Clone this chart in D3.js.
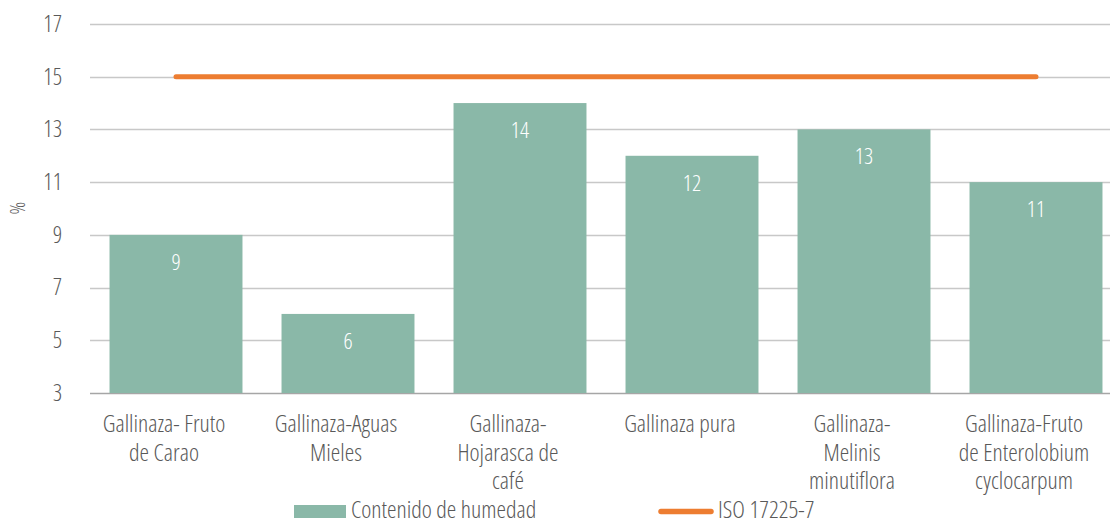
<!DOCTYPE html>
<html>
<head>
<meta charset="utf-8">
<script src="https://cdn.jsdelivr.net/npm/d3@7"></script>
<style>
  body { margin: 0; background: #fff; }
  svg text { font-family: "Open Sans", "Liberation Sans Narrow", "DejaVu Sans Condensed", sans-serif; font-stretch: condensed; font-weight: 300; fill: #595959; }
</style>
</head>
<body>
<div id="chart"></div>
<script>
// categories and values
const categories = [
    ["Gallinaza- Fruto", "de Carao"],
    ["Gallinaza-Aguas", "Mieles"],
    ["Gallinaza-", "Hojarasca de", "café"],
    ["Gallinaza pura"],
    ["Gallinaza-", "Melinis", "minutiflora"],
    ["Gallinaza-Fruto", "de Enterolobium", "cyclocarpum"]
];
const humedad = [9, 6, 14, 12, 13, 11];
const iso = [15, 15, 15, 15, 15, 15];
const yTicks = [3, 5, 7, 9, 11, 13, 15, 17];
const seriesNames = ["Contenido de humedad", "ISO 17225-7"];

const width = 1110, height = 520;
const margin = { top: 24, right: -12, bottom: 127, left: 90 };
const barColor = "#8ab8a8", lineColor = "#ed7d31";

const svg = d3.select("#chart").append("svg")
    .attr("width", width)
    .attr("height", height);

const keys = categories.map((d, i) => i);
const x = d3.scaleBand()
    .domain(keys)
    .range([margin.left, width - margin.right])
    .paddingInner(0.227)
    .paddingOuter(0.1135);

const y = d3.scaleLinear()
    .domain([3, 17])
    .range([height - margin.bottom, margin.top]);

// gridlines
svg.append("g")
    .selectAll("line")
    .data(yTicks)
    .join("line")
    .attr("x1", margin.left)
    .attr("x2", width)
    .attr("y1", d => Math.round(y(d)) + 0.5)
    .attr("y2", d => Math.round(y(d)) + 0.5)
    .attr("stroke", d => d === 3 ? "#a6a6a6" : "#c8c8c8")
    .attr("stroke-width", 1.5);

// y axis labels
const yAxis = svg.append("g")
    .attr("transform", `translate(${margin.left - 28},0)`)
    .call(d3.axisLeft(y).tickValues(yTicks).tickSize(0).tickPadding(0));
yAxis.select(".domain").remove();
yAxis.selectAll("text")
    .style("font-size", "23px")
    .attr("fill", "#595959");

svg.append("text")
    .attr("transform", "translate(25,208) rotate(-90)")
    .attr("text-anchor", "middle")
    .style("font-size", "21px")
    .text("%");

// bars
svg.append("g")
    .selectAll("rect")
    .data(humedad)
    .join("rect")
    .attr("x", (d, i) => x(i))
    .attr("y", d => y(d))
    .attr("width", x.bandwidth())
    .attr("height", d => y(3) - y(d))
    .attr("fill", barColor);

// value labels
svg.append("g")
    .selectAll("text")
    .data(humedad)
    .join("text")
    .attr("x", (d, i) => x(i) + x.bandwidth() / 2)
    .attr("y", d => y(d) + 35)
    .attr("text-anchor", "middle")
    .style("font-size", "22.5px")
    .style("fill", "#ffffff")
    .text(d => d);

// ISO line
const line = d3.line()
    .x((d, i) => x(i) + x.bandwidth() / 2)
    .y(d => y(d));
svg.append("path")
    .datum(iso)
    .attr("d", line)
    .attr("fill", "none")
    .attr("stroke", lineColor)
    .attr("stroke-width", 5)
    .attr("stroke-linecap", "round");

// category labels (wrapped text sits a bit left of the bar centre, like excel does)
const cat = svg.append("g")
    .selectAll("text")
    .data(categories)
    .join("text")
    .attr("x", (d, i) => x(i) + x.bandwidth() / 2 - 12)
    .attr("y", 432)
    .attr("text-anchor", "middle")
    .style("font-size", "24px");
cat.selectAll("tspan")
    .data(d => d)
    .join("tspan")
    .attr("x", function () { return this.parentNode.getAttribute("x"); })
    .attr("dy", (d, i) => i === 0 ? 0 : 28.6)
    .text(d => d);

// legend
const legend = svg.append("g");
legend.append("rect")
    .attr("x", 294).attr("y", 505)
    .attr("width", 52).attr("height", 13)
    .attr("fill", barColor);
legend.append("text")
    .attr("x", 351).attr("y", 518)
    .style("font-size", "24px")
    .text(seriesNames[0]);
legend.append("line")
    .attr("x1", 661).attr("x2", 711)
    .attr("y1", 511.5).attr("y2", 511.5)
    .attr("stroke", lineColor)
    .attr("stroke-width", 5.5)
    .attr("stroke-linecap", "round");
legend.append("text")
    .attr("x", 718).attr("y", 518)
    .style("font-size", "24px")
    .text(seriesNames[1]);
</script>
</body>
</html>
